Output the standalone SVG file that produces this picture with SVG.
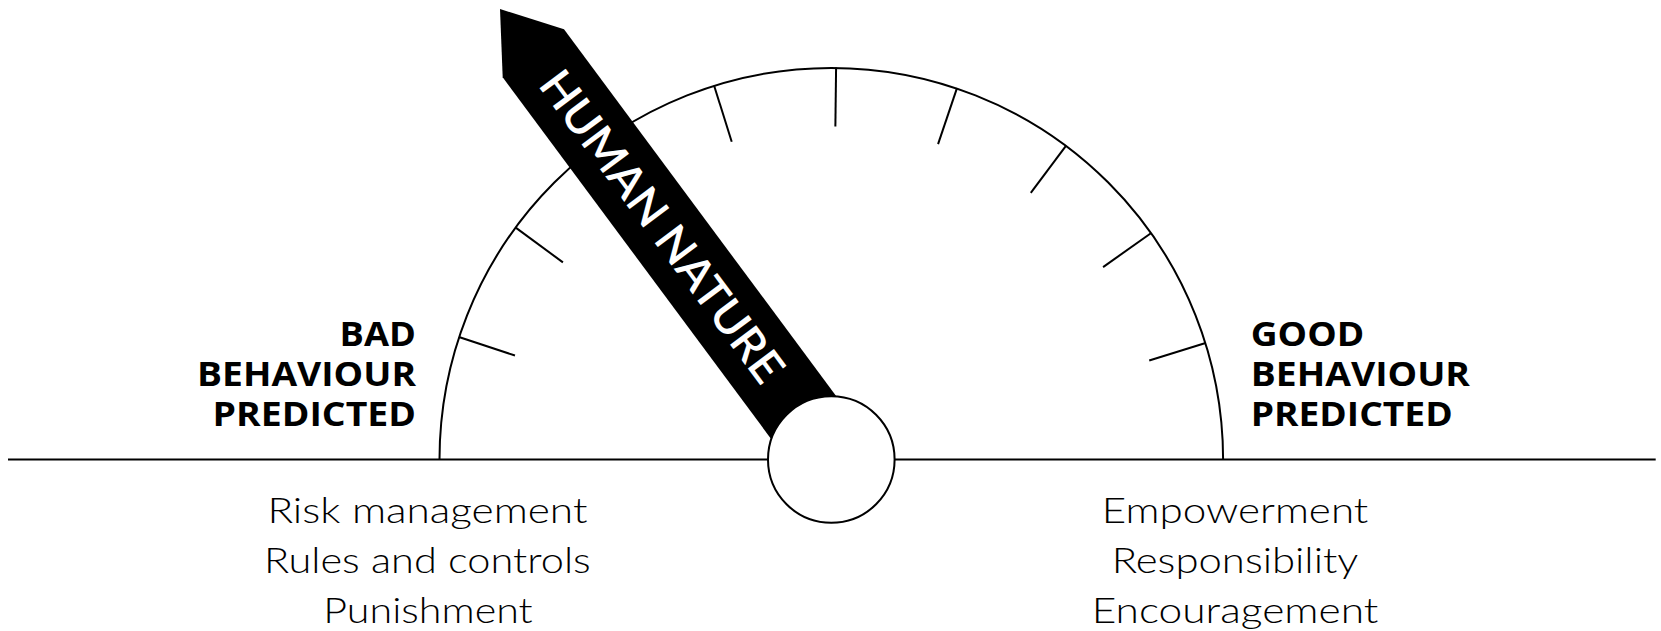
<svg xmlns="http://www.w3.org/2000/svg" width="1661" height="631" viewBox="0 0 1661 631">
  <style>
    .ink { fill: none; stroke: #000; stroke-width: 2; }
    .tick { stroke: #000; stroke-width: 2; }
    .head { font-family: "Open Sans", "Liberation Sans", sans-serif; font-weight: 700; font-size: 34px; fill: #000; }
    .list { font-family: Lato, "Noto Sans", sans-serif; font-weight: 300; font-size: 36px; fill: #000; text-anchor: middle; }
    .needle-label { font-family: Lato, "Noto Sans", sans-serif; font-weight: 600; font-size: 45px; fill: #fff; }
  </style>
  <defs>
    <line id="tick-mark" class="tick" x1="831.3" y1="67.5" x2="831.3" y2="126.5"/>
  </defs>
  <rect width="1661" height="631" fill="#fff"/>

  <!-- gauge scale: baseline, dial arc and tick marks -->
  <g id="gauge">
    <line class="ink" x1="8" y1="459.5" x2="1655.7" y2="459.5"/>
    <path class="ink" d="M 439.5 459.5 A 391.8 391.8 0 0 1 1223.1 459.5"/>
    <g id="ticks">
      <use href="#tick-mark" transform="rotate(-71.8 831.3 459.5)"/>
      <use href="#tick-mark" transform="rotate(-53.7 831.3 459.5)"/>
      <use href="#tick-mark" transform="rotate(-36.2 831.3 459.5)"/>
      <use href="#tick-mark" transform="rotate(-17.4 831.3 459.5)"/>
      <use href="#tick-mark" transform="rotate(0.7 831.3 459.5)"/>
      <use href="#tick-mark" transform="rotate(18.7 831.3 459.5)"/>
      <use href="#tick-mark" transform="rotate(36.8 831.3 459.5)"/>
      <use href="#tick-mark" transform="rotate(54.7 831.3 459.5)"/>
      <use href="#tick-mark" transform="rotate(72.7 831.3 459.5)"/>
    </g>
  </g>

  <!-- pointer with its label -->
  <g id="needle">
    <polygon points="500,9 564,29.3 873.9,446.9 776.9,446.7 502.7,77.3" fill="#000"/>
    <text class="needle-label" transform="translate(537.3 85) rotate(53.4)" x="0" y="0" textLength="376" lengthAdjust="spacingAndGlyphs">HUMAN NATURE</text>
  </g>

  <!-- pivot hub -->
  <g id="hub">
    <circle cx="831.3" cy="459.5" r="63.3" fill="#fff" stroke="#000" stroke-width="2"/>
  </g>

  <!-- left side labels -->
  <g id="bad-label">
    <text class="head" text-anchor="end" x="416" y="345.7" textLength="76.4" lengthAdjust="spacingAndGlyphs">BAD</text>
    <text class="head" text-anchor="end" x="416" y="386" textLength="219" lengthAdjust="spacingAndGlyphs">BEHAVIOUR</text>
    <text class="head" text-anchor="end" x="416" y="426" textLength="203.4" lengthAdjust="spacingAndGlyphs">PREDICTED</text>
  </g>
  <g id="bad-measures">
    <text class="list" x="427.4" y="522.7" textLength="320" lengthAdjust="spacingAndGlyphs">Risk management</text>
    <text class="list" x="427.4" y="572.7" textLength="326.7" lengthAdjust="spacingAndGlyphs">Rules and controls</text>
    <text class="list" x="428" y="622.7" textLength="209.4" lengthAdjust="spacingAndGlyphs">Punishment</text>
  </g>

  <!-- right side labels -->
  <g id="good-label">
    <text class="head" x="1250.7" y="345.7" textLength="113.6" lengthAdjust="spacingAndGlyphs">GOOD</text>
    <text class="head" x="1250.7" y="386" textLength="219.3" lengthAdjust="spacingAndGlyphs">BEHAVIOUR</text>
    <text class="head" x="1250.7" y="426" textLength="202" lengthAdjust="spacingAndGlyphs">PREDICTED</text>
  </g>
  <g id="good-measures">
    <text class="list" x="1235" y="522.7" textLength="266.6" lengthAdjust="spacingAndGlyphs">Empowerment</text>
    <text class="list" x="1235" y="572.7" textLength="246.6" lengthAdjust="spacingAndGlyphs">Responsibility</text>
    <text class="list" x="1235" y="622.7" textLength="286.6" lengthAdjust="spacingAndGlyphs">Encouragement</text>
  </g>
</svg>
